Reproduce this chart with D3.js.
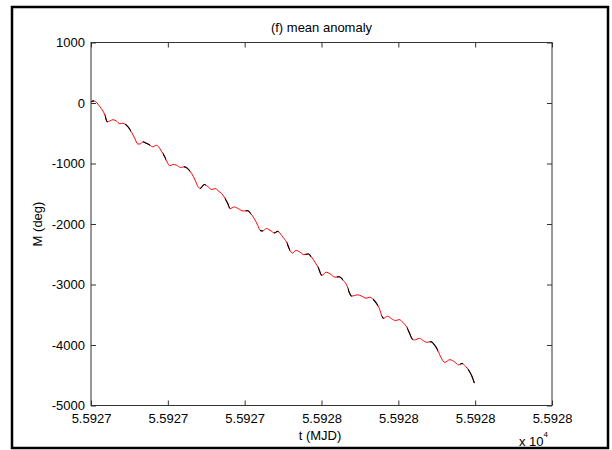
<!DOCTYPE html>
<html>
<head>
<meta charset="utf-8">
<title>(f) mean anomaly</title>
<style>
  body { margin: 0; background: #fff; }
  text { font-family: "Liberation Sans", Arial, sans-serif; fill: #000; }
  .axis path { display: none; }
  .axis line { stroke: #333; }
</style>
</head>
<body>
<script src="https://cdn.jsdelivr.net/npm/d3@7"></script>
<script>
// time (MJD) and mean anomaly (deg)
var tMJD = [55927.000, 55927.008, 55927.023, 55927.036, 55927.042, 55927.049, 55927.057, 55927.066, 55927.075, 55927.083,
            55927.089, 55927.096, 55927.105, 55927.114, 55927.122, 55927.129, 55927.135, 55927.144, 55927.153, 55927.161,
            55927.170, 55927.176, 55927.183, 55927.192, 55927.200, 55927.205, 55927.213, 55927.222, 55927.233, 55927.244,
            55927.251, 55927.262, 55927.271, 55927.279, 55927.284, 55927.295, 55927.305, 55927.314, 55927.325, 55927.331,
            55927.340, 55927.349, 55927.356, 55927.362, 55927.373, 55927.383, 55927.396, 55927.408, 55927.416, 55927.425,
            55927.434, 55927.440, 55927.446, 55927.457, 55927.469, 55927.477, 55927.486, 55927.496, 55927.504, 55927.509,
            55927.516, 55927.524, 55927.534, 55927.544, 55927.554, 55927.566, 55927.574, 55927.583, 55927.592, 55927.601,
            55927.612, 55927.622, 55927.635, 55927.646, 55927.657, 55927.666, 55927.672, 55927.679, 55927.693, 55927.705,
            55927.716, 55927.726, 55927.735, 55927.744, 55927.751, 55927.757, 55927.761, 55927.772, 55927.783, 55927.793,
            55927.802, 55927.813, 55927.822, 55927.830, 55927.836, 55927.842, 55927.855, 55927.865, 55927.874, 55927.885,
            55927.894, 55927.902, 55927.911, 55927.921, 55927.934, 55927.948, 55927.956, 55927.966, 55927.975, 55927.984,
            55927.991, 55927.998];
var meanAnom = [20, 35, -61, -198, -309, -298, -276, -298, -343, -335,
                -352, -392, -475, -585, -679, -674, -641, -667, -696, -724,
                -700, -724, -795, -890, -999, -1039, -1016, -1027, -1065, -1055,
                -1080, -1165, -1276, -1387, -1413, -1347, -1387, -1430, -1413, -1453,
                -1496, -1579, -1662, -1745, -1718, -1745, -1785, -1780, -1828, -1911,
                -2022, -2104, -2116, -2076, -2116, -2149, -2121, -2187, -2254, -2298,
                -2408, -2481, -2436, -2464, -2507, -2495, -2547, -2630, -2729, -2850,
                -2796, -2822, -2879, -2872, -2933, -3016, -3127, -3193, -3170, -3193,
                -3227, -3210, -3248, -3320, -3402, -3525, -3558, -3525, -3568, -3596,
                -3580, -3634, -3707, -3817, -3900, -3916, -3890, -3928, -3956, -3945,
                -3999, -4077, -4205, -4287, -4243, -4287, -4330, -4304, -4354, -4425,
                -4508, -4629];

// stretches of time where the black series shows through the red one
var blackSpans = [[55927.000, 55927.008], [55927.036, 55927.044], [55927.089, 55927.104], [55927.135, 55927.154],
                  [55927.187, 55927.195], [55927.242, 55927.258], [55927.284, 55927.299], [55927.349, 55927.362],
                  [55927.403, 55927.416], [55927.440, 55927.448], [55927.476, 55927.489], [55927.510, 55927.518],
                  [55927.557, 55927.573], [55927.591, 55927.601], [55927.640, 55927.656], [55927.669, 55927.679],
                  [55927.734, 55927.747], [55927.757, 55927.763], [55927.823, 55927.838], [55927.882, 55927.903],
                  [55927.961, 55927.968], [55927.981, 55928.000]];

var xTicks = [55927.0, 55927.2, 55927.4, 55927.6, 55927.8, 55928.0, 55928.2];
var yTicks = [-5000, -4000, -3000, -2000, -1000, 0, 1000];

var width = 612, height = 450;
var plotL = 91, plotR = 552, plotT = 42.5, plotB = 405.5;

var svg = d3.select("body").append("svg")
	.attr("width", width)
	.attr("height", height);

var x = d3.scaleLinear().domain([55927, 55928.2]).range([plotL, plotR]);
var y = d3.scaleLinear().domain([-5000, 1000]).range([plotB, plotT]);

var data = tMJD.map(function(t, i){ return {t: t, m: meanAnom[i]}; });

// axes box (MATLAB style, ticks inside on every side)
svg.append("g").attr("class", "axis")
	.attr("transform", "translate(0," + plotB + ")")
	.call(d3.axisBottom(x).tickValues(xTicks).tickSizeInner(-5).tickSizeOuter(0).tickPadding(8)
		.tickFormat(function(d){ return (d / 1e4).toFixed(4); }))
	.call(function(g){ g.selectAll("text").style("font-size", "13px").attr("fill", "#000"); });

svg.append("g").attr("class", "axis")
	.attr("transform", "translate(0," + plotT + ")")
	.call(d3.axisTop(x).tickValues(xTicks).tickSizeInner(-5).tickSizeOuter(0).tickFormat(""));

svg.append("g").attr("class", "axis")
	.attr("transform", "translate(" + plotL + ",0)")
	.call(d3.axisLeft(y).tickValues(yTicks).tickSizeInner(-5).tickSizeOuter(0).tickPadding(6)
		.tickFormat(function(d){ return String(d); }))
	.call(function(g){ g.selectAll("text").style("font-size", "13px").attr("fill", "#000"); });

svg.append("g").attr("class", "axis")
	.attr("transform", "translate(" + plotR + ",0)")
	.call(d3.axisRight(y).tickValues(yTicks).tickSizeInner(-5).tickSizeOuter(0).tickFormat(""));

svg.append("rect")
	.attr("x", plotL).attr("y", plotT)
	.attr("width", plotR - plotL).attr("height", plotB - plotT)
	.attr("fill", "none").attr("stroke", "#333").attr("stroke-width", 1);

// clip for black stretches
var clip = svg.append("defs").append("clipPath").attr("id", "blackClip");
clip.selectAll("rect")
	.data(blackSpans)
	.enter()
	.append("rect")
	.attr("x", function(d){ return x(d[0]); })
	.attr("width", function(d){ return x(d[1]) - x(d[0]); })
	.attr("y", plotT).attr("height", plotB - plotT);

var line = d3.line()
	.x(function(d){ return x(d.t); })
	.y(function(d){ return y(d.m); })
	.curve(d3.curveMonotoneX);

svg.append("path")
	.datum(data)
	.attr("d", line)
	.attr("fill", "none")
	.attr("stroke", "#ff0000")
	.attr("stroke-width", 1);

svg.append("path")
	.datum(data)
	.attr("d", line)
	.attr("clip-path", "url(#blackClip)")
	.attr("fill", "none")
	.attr("stroke", "#000")
	.attr("stroke-width", 1.1);

// texts
svg.append("text")
	.attr("x", (plotL + plotR) / 2).attr("y", 32)
	.attr("text-anchor", "middle")
	.style("font-size", "13px")
	.text("(f) mean anomaly");

svg.append("text")
	.attr("x", 320).attr("y", 440)
	.attr("text-anchor", "middle")
	.style("font-size", "13px")
	.text("t (MJD)");

svg.append("text")
	.attr("transform", "translate(42," + ((plotT + plotB) / 2) + ") rotate(-90)")
	.attr("text-anchor", "middle")
	.style("font-size", "13px")
	.text("M (deg)");

var exp = svg.append("text")
	.attr("x", 519).attr("y", 446)
	.style("font-size", "13px")
	.text("x 10");
exp.append("tspan")
	.attr("dy", -9)
	.style("font-size", "8px")
	.text("4");

// outer frame
svg.append("rect")
	.attr("x", 12).attr("y", 7)
	.attr("width", 596).attr("height", 441)
	.attr("fill", "none")
	.attr("stroke", "#000")
	.attr("stroke-width", 2.5);
</script>
</body>
</html>
